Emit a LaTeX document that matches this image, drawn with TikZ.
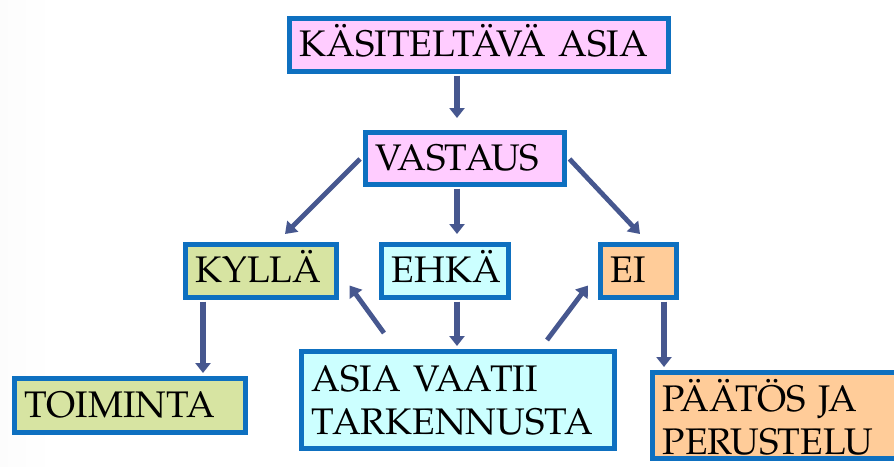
\documentclass[tikz,border=0pt]{standalone}
\usepackage{fontspec}
\setmainfont[WordSpace=0.8]{TeX Gyre Pagella}
\usetikzlibrary{arrows.meta,calc}
\definecolor{bordc}{HTML}{0E70C0}
\definecolor{arrc}{HTML}{46578F}
\definecolor{pinkf}{HTML}{FFCCFF}
\definecolor{greenf}{HTML}{D7E4A2}
\definecolor{cyanf}{HTML}{CCFFFF}
\definecolor{orangef}{HTML}{FFCC99}
\definecolor{bgg}{HTML}{E4E4E4}
\pgfdeclarehorizontalshading{bgshade}{100bp}{color(0bp)=(bgg); color(28bp)=(white); color(78bp)=(white); color(100bp)=(bgg)}
\begin{document}
\begin{tikzpicture}[x=1pt,y=-1pt,
  box/.style={draw=bordc, line width=4.5pt, inner xsep=10.5pt, inner ysep=0pt,
    anchor=north west, align=left, font=\fontsize{37}{43}\selectfont},
  one/.style={text height=25pt, text depth=1pt},
  arr/.style={draw=arrc, line width=6pt, -{Triangle[width=15pt,length=10pt]}},
  darr/.style={draw=arrc, line width=4.8pt, -{Triangle[width=15pt,length=11pt]}}]
\useasboundingbox (0,0) rectangle (894,466);
\clip (0,0) rectangle (894,466);
\fill[shading=bgshade] (0,0) rectangle (894,466);

\node[box, one, fill=pinkf, text width=358pt, minimum height=53pt] (top) at (287,16) {KÄSITELTÄVÄ ASIA};
\node[box, one, fill=pinkf, text width=178pt, minimum height=52pt] (vast) at (363,130) {VASTAUS};
\node[box, one, fill=greenf, text width=130pt, minimum height=53pt] (kylla) at (183,242) {KYLLÄ};
\node[box, one, fill=cyanf, text width=106pt, minimum height=53pt] (ehka) at (379,242) {EHKÄ};
\node[box, one, fill=orangef, text width=55pt, minimum height=53pt] (ei) at (598,242) {EI};
\node[box, one, fill=greenf, text width=210pt, minimum height=54pt] (toim) at (12,376) {TOIMINTA};
\node[box, fill=cyanf, text width=292pt, minimum height=97pt] (asia) at (299,349) {ASIA VAATII\\TARKENNUSTA};
\node[box, fill=orangef, text width=239pt, inner ysep=7pt, text depth=40pt] (paatos) at (650,370) {PÄÄTÖS JA\\PERUSTELU};

\draw[arr] ($(top.south west)+(170,2)$) -- ($(vast.north west)+(94,-12)$);
\draw[arr] ($(vast.south west)+(94,2)$) -- ($(ehka.north west)+(78,-8)$);
\draw[arr] ($(kylla.south west)+(20,2)$) -- ($(toim.north west)+(191,-3)$);
\draw[arr] ($(ehka.south west)+(78,2)$) -- ($(asia.north west)+(158,-3)$);
\draw[arr] ($(ei.south west)+(66,2)$) -- ($(paatos.north west)+(14,-3)$);
\draw[darr] ($(vast.north west)+(-3,29)$) -- ($(kylla.north west)+(102,-8)$);
\draw[darr] ($(vast.north east)+(3,29)$) -- ($(ei.north west)+(42,-8)$);
\draw[darr] ($(asia.north west)+(85,-16)$) -- ($(kylla.south east)+(11,-14)$);
\draw[darr] ($(asia.north west)+(248,-9)$) -- ($(ei.south west)+(-10,-14)$);
\end{tikzpicture}
\end{document}
